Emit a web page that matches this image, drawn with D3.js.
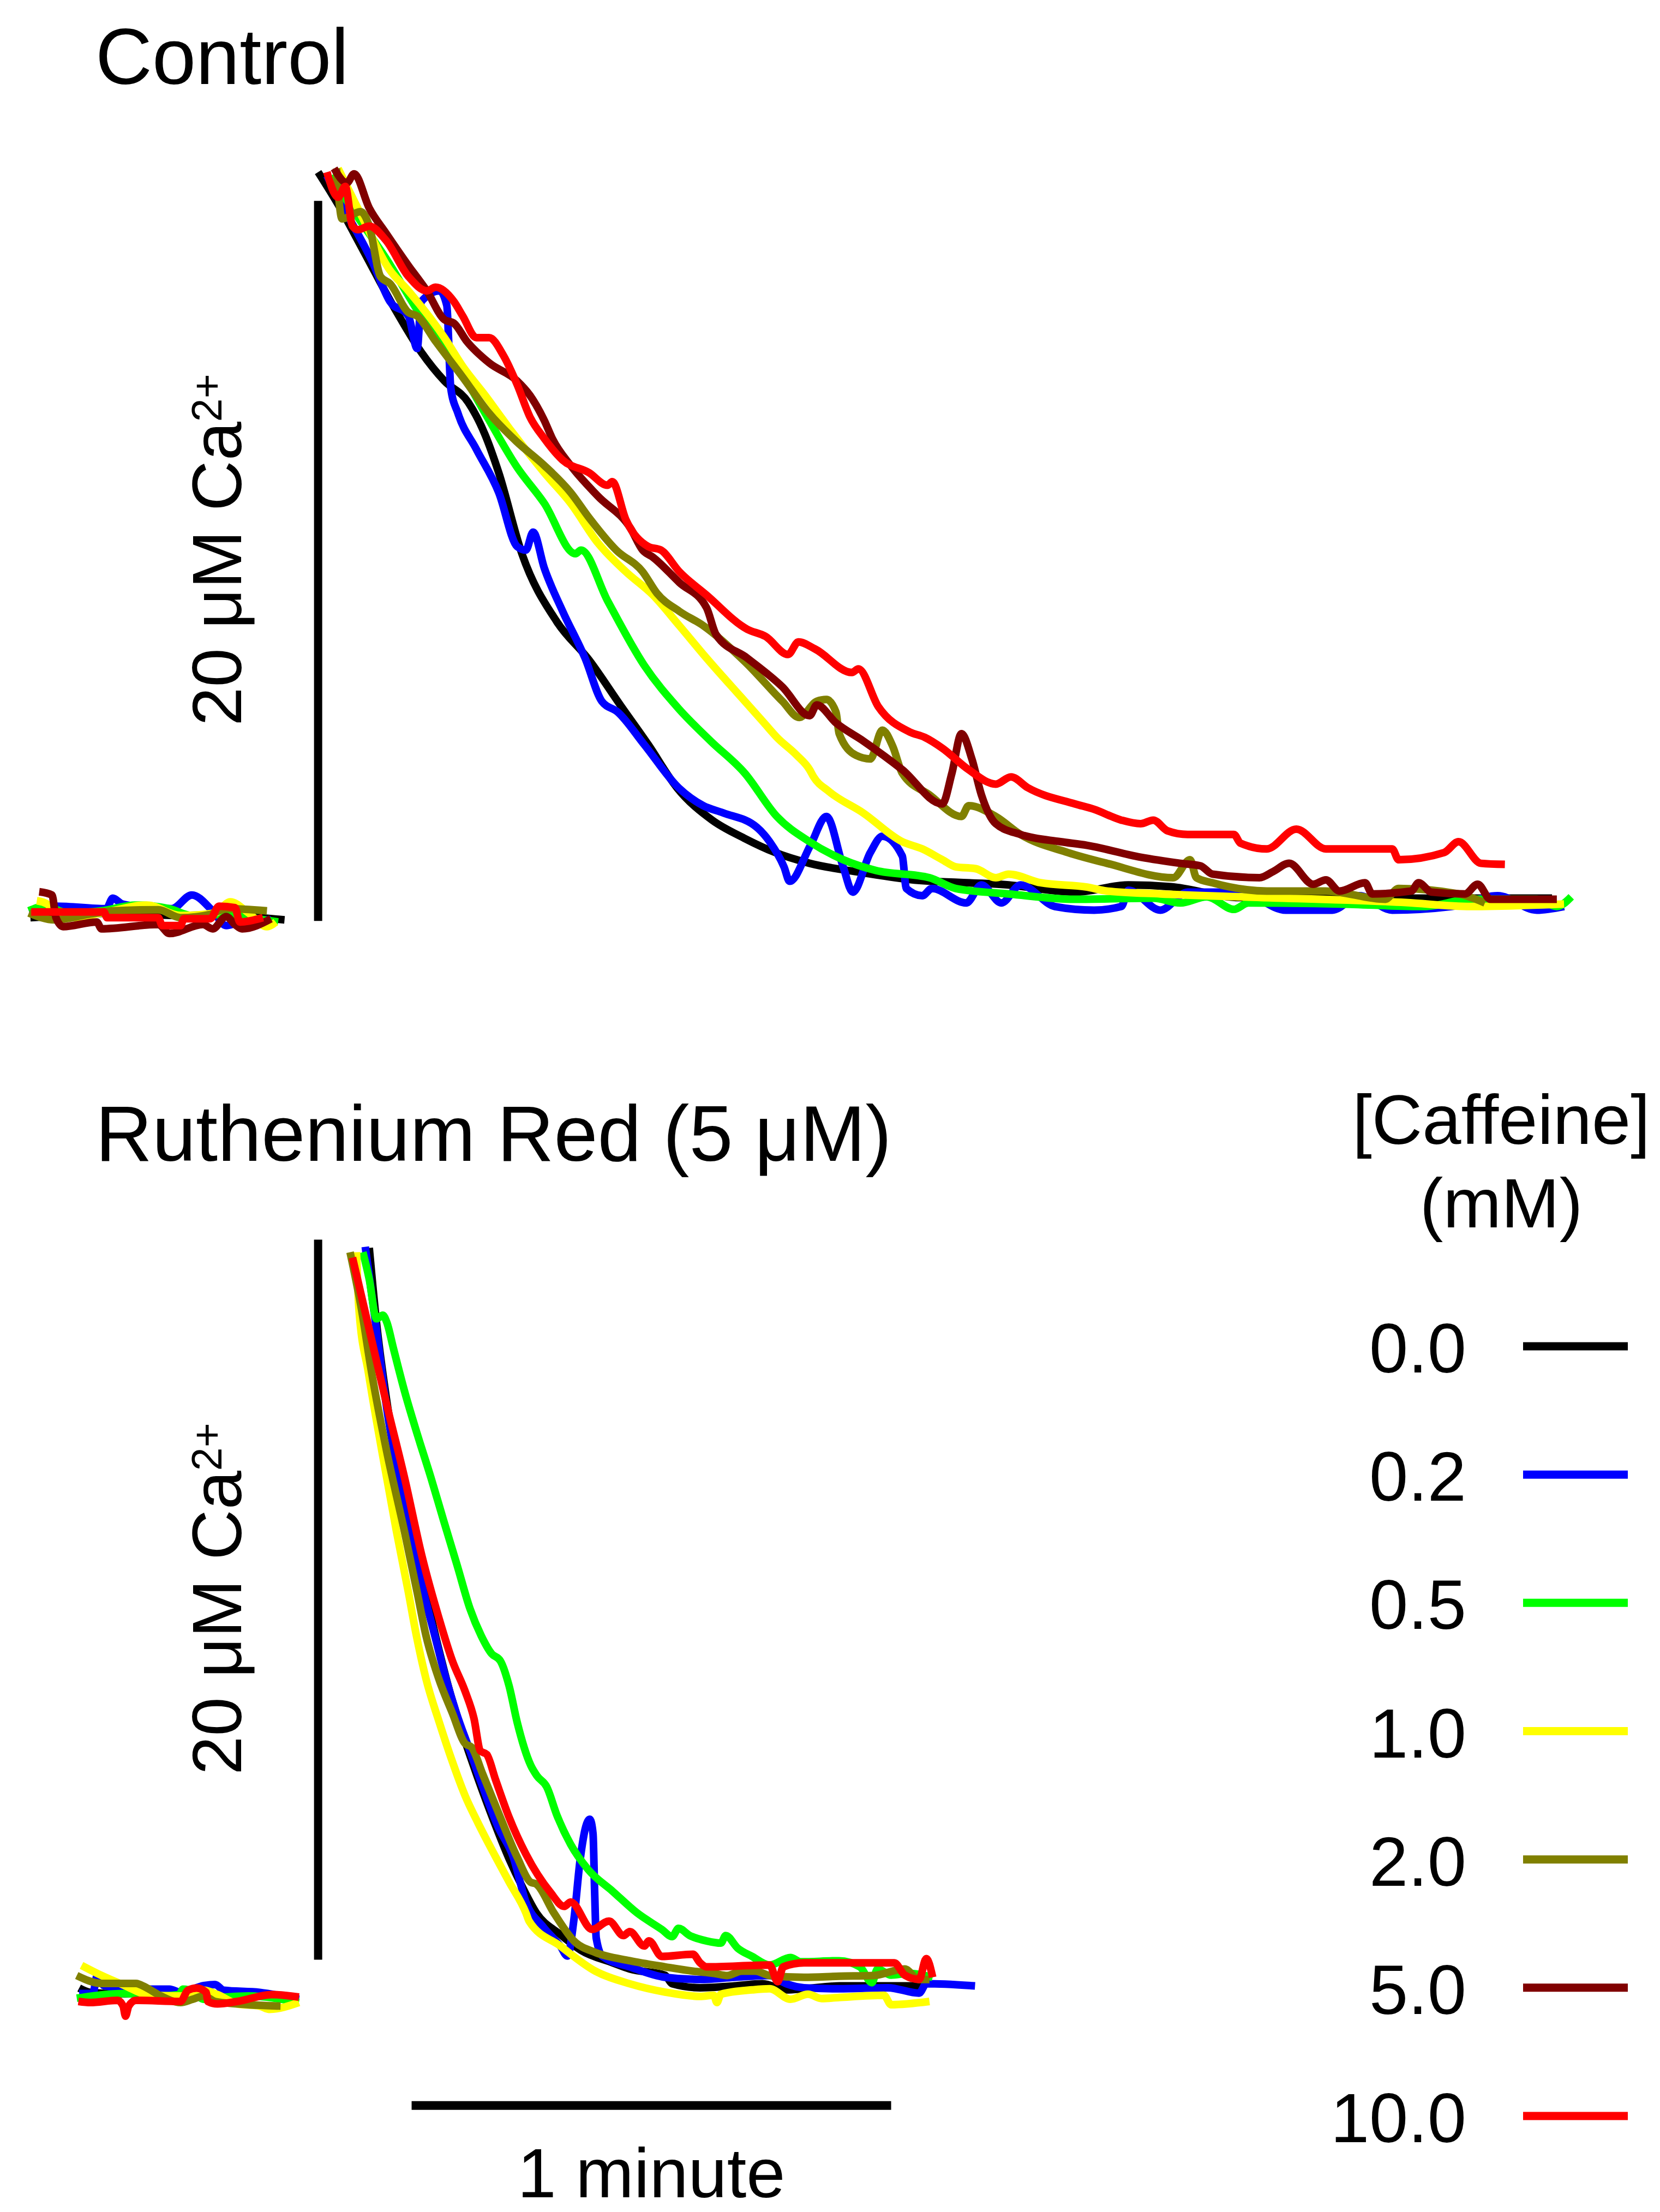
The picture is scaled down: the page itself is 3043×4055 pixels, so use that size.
<!DOCTYPE html>
<html>
<head>
<meta charset="utf-8">
<script src="https://d3js.org/d3.v7.min.js"></script>
<style>
  body { margin: 0; background: #fff; }
  svg text { font-family: 'Liberation Sans', Arial, Helvetica, sans-serif; fill: #000; }
</style>
</head>
<body>
<div id="chart"></div>
<script>
/* global d3 */

const caffeine = ['0.0', '0.2', '0.5', '1.0', '2.0', '5.0', '10.0'];
const traceColors = ['#000000', '#0000ff', '#00ff00', '#ffff00', '#808000', '#800000', '#ff0000'];

// traces are [seconds, µM above resting]; null separates the resting baseline from the decay

// Control
const control00 = [
  [-36.4, -0.11], [-31.7, -0.05], [-26.1, 0.02], [-17.6, -0.05], [-11.9, -0.02], [-9.1, -0.08], [-4.6, -0.17],
  null,
  [-0.4, 20.6], [2.1, 19.7], [5.3, 18.4], [9.2, 16.8], [12.5, 15.6], [15.4, 14.8], [18.4, 14.2], [20.5, 13.3],
  [22.2, 12.25], [25.1, 10.0], [29.5, 8.1], [33.5, 7.05], [37.4, 5.8], [40.9, 4.7], [44.5, 3.5], [48.9, 2.6],
  [52.9, 2.1], [56.8, 1.7], [61.1, 1.4], [67.4, 1.15], [73.6, 0.95], [86, 0.8], [94.3, 0.6], [101, 0.8],
  [106.3, 0.75], [115, 0.45], [136, 0.43], [154, 0.43],
];
const control02 = [
  [-36.6, 0.08], [-33.2, 0.21], [-26.9, 0.14], [-26.1, 0.43], [-24.9, 0.27], [-23.2, 0.21], [-18.7, 0.14],
  [-16.2, 0.52], [-13.6, 0.08], [-11.9, -0.33], [-10.2, -0.23], [-6.3, -0.17],
  null,
  [0.7, 20.5], [2.3, 19.8], [6.4, 18.1], [8.6, 17.0], [10.9, 16.6], [12.0, 15.7], [12.5, 17.0], [14.8, 17.3],
  [15.7, 16.9], [16.2, 14.6], [17.1, 13.9], [19.4, 12.9], [22.2, 11.7], [24.5, 10.2], [25.6, 10.1], [26.5, 10.6],
  [27.9, 9.6], [30.2, 8.4], [33.0, 7.1], [35.1, 5.9], [37.1, 5.6], [40.4, 4.7], [44.7, 3.5], [47.8, 3.0],
  [50.3, 2.8], [54.5, 2.4], [56.1, 2.0], [57.9, 1.3], [58.6, 0.9], [61.2, 1.9], [63.2, 2.7], [65.3, 1.3],
  [66.5, 0.6], [68.7, 1.7], [70.2, 2.15], [72.7, 1.6], [73.2, 0.7], [75.2, 0.5], [76.4, 0.7], [80.7, 0.3],
  [82.6, 0.8], [85.1, 0.3], [87.5, 0.8], [91.8, 0.2], [96.7, 0.1], [100.1, 0.2], [101, 0.65], [105, 0.1],
  [108.4, 0.6], [115, 0.6], [120.7, 0.1], [126.5, 0.1], [129.9, 0.5], [134, 0.1], [141.4, 0.2], [147.2, 0.5],
  [152.1, 0.1], [155.5, 0.2],
];
const control05 = [
  [-36.6, 0.08], [-34.6, 0.21], [-31.7, 0.02], [-27.5, 0.08], [-23.2, 0.24], [-19.0, 0.14], [-16.2, -0.05],
  [-11.9, -0.02], [-9.1, -0.11], [-5.4, -0.23],
  null,
  [1.2, 20.5], [4.1, 19.5], [8.1, 18.2], [12.5, 16.6], [16.6, 15.4], [20.5, 13.9], [24.5, 12.4], [27.9, 11.4],
  [31.8, 10.0], [32.5, 10.1], [35.8, 8.7], [40.4, 6.9], [44.7, 5.7], [48.7, 4.8], [53, 3.9], [57, 2.7],
  [61.1, 2.0], [65.3, 1.5], [69.4, 1.2], [76.1, 1.0], [79.4, 0.7], [86, 0.55], [94.3, 0.4], [104.1, 0.43],
  [107.5, 0.3], [110.8, 0.47], [114.2, 0.12], [116, 0.3], [127.4, 0.27], [138, 0.2], [143.8, 0.4],
  [152.1, 0.4], [154.6, 0.2], [156.4, 0.47],
];
const control10 = [
  [-35.6, 0.36], [-34.3, 0.27], [-33.2, 0.02], [-31.2, -0.11], [-27.5, 0.02], [-21.8, 0.24], [-17.6, -0.05],
  [-13.3, 0.02], [-11.4, 0.33], [-9.1, 0.02], [-6.8, -0.36], [-5.7, -0.23],
  null,
  [2.1, 20.7], [5.0, 19.4], [8.5, 17.9], [10.9, 17.3], [15.4, 16.0], [17.7, 15.2], [20.5, 14.4], [23.8, 13.4],
  [27.9, 12.25], [31.2, 11.4], [34.6, 10.3], [38.1, 9.5], [41.5, 8.85], [44.8, 8.0], [48.2, 7.1], [53, 5.9],
  [55.4, 5.3], [57, 4.9], [59.5, 4.4], [61.1, 4.0], [61.6, 3.8], [63.5, 3.4], [67.8, 2.8], [72.7, 2.0],
  [75.2, 1.8], [77.7, 1.5], [79.4, 1.3], [81.9, 1.25], [84.4, 1.0], [86, 1.1], [90, 0.86], [95.8, 0.74],
  [98.3, 0.63], [105, 0.55], [115, 0.47], [135.7, 0.31], [143.8, 0.2], [155.5, 0.27],
];
const control20 = [
  [-36.6, 0.02], [-33.4, -0.17], [-28.9, -0.01], [-26.1, 0.08], [-20.4, 0.11], [-17.6, -0.11], [-13.9, -0.02],
  [-11.9, 0.14], [-6.8, 0.08],
  null,
  [1.9, 20.7], [2.6, 19.3], [4.9, 19.5], [6.0, 19.1], [7.4, 17.7], [8.6, 17.5], [10.9, 16.7], [12.0, 16.6],
  [14.3, 15.9], [17.7, 14.9], [21, 13.9], [24.5, 13.1], [27.9, 12.45], [31.2, 11.7], [33.5, 11.0], [36.9, 10.1],
  [40.2, 9.5], [42, 8.9], [44.8, 8.4], [47.8, 8.0], [53, 7.0], [57.7, 5.9], [59.8, 5.45], [62, 5.9],
  [63.2, 5.95], [64.4, 5.6], [64.8, 5.0], [66.9, 4.4], [68.7, 4.3], [70.2, 5.1], [71.5, 4.65], [72.7, 3.9],
  [76.1, 3.3], [80.1, 2.7], [81, 3.0], [84.4, 2.7], [87.5, 2.2], [93.4, 1.7], [98.3, 1.4], [106.6, 1.0],
  [108.7, 1.5], [109.5, 1.0], [111.5, 0.86], [118.3, 0.63], [125.7, 0.63], [133.1, 0.4], [134.8, 0.7],
  [142.3, 0.55], [145.6, 0.3],
];
const control50 = [
  [-35.3, 0.61], [-33.7, 0.52], [-33.2, -0.11], [-32.3, -0.36], [-28.1, -0.23], [-27.5, -0.42], [-20.4, -0.30],
  [-19.0, -0.55], [-14.8, -0.30], [-13.6, -0.42], [-11.9, -0.08], [-10.8, -0.30], [-9.9, -0.42], [-6.3, -0.14],
  null,
  [1.6, 20.7], [3.2, 20.3], [4.1, 20.55], [6.0, 19.6], [8.1, 18.9], [10.9, 18.0], [13.2, 17.3], [15.4, 16.5],
  [16.6, 16.4], [18.2, 15.9], [21, 15.3], [24.5, 14.8], [26.1, 14.4], [27.9, 13.7], [28.9, 13.2], [31.2, 12.45],
  [34.6, 11.6], [38.7, 10.7], [40.2, 10.1], [41.5, 9.9], [44.8, 9.2], [48.2, 8.5], [49.4, 7.75], [53.3, 7.1],
  [57.7, 6.3], [61.1, 5.5], [62, 5.8], [64.4, 5.3], [67.8, 4.8], [72.7, 4.0], [77.7, 3.05], [78.9, 3.9],
  [80.1, 5.0], [81.4, 4.3], [82.6, 3.3], [84.4, 2.5], [87.5, 2.2], [92.5, 2.0], [95.8, 1.9], [102.5, 1.57],
  [107.5, 1.4], [110, 1.33], [111.5, 1.1], [117.4, 1.0], [119.1, 1.17], [121.1, 1.4], [124.1, 0.82],
  [125.7, 0.94], [127.4, 0.63], [130.6, 0.86], [131.5, 0.55], [136.4, 0.63], [137.3, 0.86], [138.9, 0.6],
  [143.1, 0.55], [144.7, 0.82], [146.3, 0.4], [154.6, 0.4],
];
const control100 = [
  [-36.3, 0.05], [-27.2, 0.05], [-26.8, -0.11], [-20.4, -0.11], [-19.9, -0.33], [-17.6, -0.33], [-17.2, -0.14],
  [-13.9, -0.14], [-12.8, 0.21], [-10.8, 0.17], [-10.2, -0.23], [-7.3, -0.11],
  null,
  [0.7, 20.6], [2.1, 19.9], [3.0, 20.2], [3.9, 19.1], [4.6, 19.0], [6.0, 19.1], [8.1, 18.7], [10.9, 17.7],
  [13.2, 17.3], [14.3, 17.4], [16.6, 17.0], [17.7, 16.6], [19.4, 16.0], [21, 16.0], [22.8, 15.5], [24.5, 14.7],
  [26.1, 13.8], [27.9, 13.2], [30.2, 12.6], [33.5, 12.25], [35.8, 11.9], [36.4, 12.0], [38.1, 10.95],
  [40.9, 10.2], [42.5, 10.1], [44.8, 9.5], [48.2, 8.85], [53.3, 7.9], [55.6, 7.7], [58.4, 7.2], [59.7, 7.55],
  [61.8, 7.35], [66.4, 6.7], [67.2, 6.8], [69.7, 5.75], [73.6, 5.05], [75.5, 4.9], [77.7, 4.6], [81, 4.0],
  [84.4, 3.6], [86.3, 3.8], [88.4, 3.5], [94.3, 3.05], [96.7, 2.9], [100.1, 2.6], [102.5, 2.5], [104.1, 2.6],
  [105.9, 2.3], [108.4, 2.2], [114.2, 2.2], [115, 1.96], [118.3, 1.8], [122, 2.35], [125.7, 1.8], [134, 1.8],
  [134.8, 1.5], [140.5, 1.7], [142.3, 2.0], [145.1, 1.4], [148.1, 1.37],
];

// Ruthenium Red (5 µM), no 5.0 mM trace
const rr00 = [
  [-30.3, 0.31], [-28.9, 0.19], [-25, 0.15], [-18, 0.15], [-12, 0.12], [-6, 0.08], [-2.8, 0.0],
  null,
  [6.0, 20.87], [6.9, 18.8], [8.2, 16.6], [9.85, 14.5], [11.5, 12.6], [13.1, 11.2], [14.5, 9.9], [16, 8.6],
  [17.5, 7.5], [19.5, 6.2], [21.5, 5.0], [23.5, 3.9], [25.2, 3.1], [26.9, 2.4], [29.9, 1.8], [32.5, 1.36],
  [36.5, 1.01], [38.6, 0.84], [43, 0.67], [43.9, 0.43], [47.4, 0.32], [51.7, 0.37], [55.2, 0.43], [58.2, 0.26],
  [60.4, 0.29], [64.8, 0.37], [69.1, 0.37], [75.7, 0.37],
];
const rr02 = [
  [-30.3, 0.16], [-28.6, 0.16], [-28.0, 0.69], [-27.2, 0.38], [-23.2, 0.28], [-19.0, 0.28], [-17.6, 0.19],
  [-14.7, 0.38], [-13.3, 0.41], [-12.2, 0.25], [-7.7, 0.19], [-2.8, 0.0],
  null,
  [5.5, 20.9], [6.9, 18.6], [8.2, 16.4], [9.85, 14.35], [11.5, 12.5], [12.8, 11.3], [14.2, 10.1], [15.6, 8.9],
  [16.9, 7.95], [18.6, 6.9], [20.2, 5.9], [22.1, 4.8], [24.0, 3.96], [25.6, 2.7], [27.8, 2.0], [29.9, 1.48],
  [30.8, 1.2], [31.6, 2.2], [32.4, 3.9], [33.1, 4.8], [33.6, 5.0], [34.0, 4.6], [34.2, 3.0], [34.4, 1.7],
  [35.2, 1.19], [38.6, 0.9], [43, 0.61], [47.4, 0.55], [51.7, 0.61], [56.1, 0.66], [58.2, 0.43], [60.4, 0.32],
  [64.8, 0.29], [70.9, 0.32], [74.8, 0.17], [75.7, 0.43], [81.8, 0.37],
];
const rr05 = [
  [-30.6, 0.03], [-24.6, 0.16], [-20.4, 0.09], [-17.8, 0.13], [-17.3, 0.28], [-16.1, 0.22], [-14.7, 0.0],
  [-11.9, 0.06], [-9.1, 0.09], [-2.8, -0.09],
  null,
  [5.2, 20.75], [6.0, 20.0], [6.9, 18.9], [7.7, 19.0], [8.2, 18.8], [9.0, 18.1], [10.4, 16.9], [12.0, 15.7],
  [13.7, 14.5], [15.3, 13.3], [17.0, 12.05], [18.6, 10.85], [20.0, 10.1], [21.3, 9.6], [22.4, 9.4], [23.5, 8.7],
  [24.5, 7.7], [26.2, 6.5], [27.0, 6.2], [28.2, 5.9], [29.5, 5.1], [31.2, 4.3], [33.4, 3.6], [36.5, 2.99],
  [39.5, 2.4], [42.6, 1.94], [43.9, 1.74], [44.7, 1.97], [46.1, 1.77], [48.2, 1.62], [50, 1.56], [50.6, 1.77],
  [52.1, 1.42], [53.9, 1.19], [56.1, 0.95], [58.7, 1.16], [60, 1.04], [64.8, 1.07], [67.4, 0.9], [68.9, 0.46],
  [69.6, 0.84], [71.3, 0.67], [73.5, 0.72], [76.5, 0.61],
];
const rr10 = [
  [-30.0, 0.94], [-27.5, 0.66], [-24.6, 0.38], [-21.8, 0.13], [-17.6, 0.09], [-14.7, 0.25], [-13.0, 0.13],
  [-10.5, -0.13], [-7.7, -0.19], [-6.5, -0.28], [-2.8, -0.09],
  null,
  [4.4, 20.75], [4.7, 19.2], [5.9, 17.4], [7.6, 15.2], [9.4, 13.0], [10.9, 11.3], [11.9, 10.1], [13.1, 8.9],
  [14.75, 7.7], [16.4, 6.6], [18.0, 5.65], [19.6, 4.9], [21.8, 3.96], [23.5, 3.26], [25.6, 2.4], [26, 2.17],
  [29.9, 1.48], [34.3, 0.78], [38.6, 0.43], [43, 0.2], [47.4, 0.08], [49.1, 0.11], [49.5, -0.09], [50, 0.14],
  [53.9, 0.26], [56.1, 0.29], [58.7, 0.0], [60.9, 0.14], [62.6, 0.02], [64.8, 0.05], [70.4, 0.11],
  [71.3, -0.15], [76.1, -0.06],
];
const rr20 = [
  [-30.6, 0.66], [-27.5, 0.44], [-23.2, 0.44], [-21.8, 0.31], [-20.4, 0.13], [-17.6, -0.09], [-16.1, 0.0],
  [-14.7, 0.09], [-13.3, -0.06], [-10.5, -0.13], [-5.1, -0.19],
  null,
  [3.6, 20.75], [5.0, 19.2], [6.3, 17.4], [8.2, 15.2], [10.4, 13.0], [12.0, 11.3], [13.1, 10.1], [14.7, 8.9],
  [16.4, 7.95], [18.0, 7.1], [18.8, 7.0], [20.2, 6.25], [22.4, 5.05], [24.5, 3.95], [26.2, 3.25], [26.9, 3.2],
  [29.1, 2.4], [31.7, 1.6], [34.3, 1.3], [38.6, 1.07], [43, 0.9], [46.5, 0.78], [49.1, 0.72], [50.8, 0.66],
  [52.6, 0.78], [54.3, 0.78], [56.1, 0.66], [60.4, 0.61], [64.8, 0.64], [69.1, 0.66], [73, 0.84], [74.8, 0.55],
  [76.1, 0.55],
];
const rr100 = [
  [-30.4, -0.06], [-28.9, -0.09], [-25.5, -0.03], [-24.8, -0.19], [-24.5, -0.47], [-24.1, -0.19], [-23.2, -0.03],
  [-17.6, -0.06], [-16.7, 0.25], [-15.6, 0.31], [-14.4, 0.19], [-14.2, -0.06], [-13.0, -0.13], [-10.5, -0.06],
  [-6.2, 0.13], [-2.8, 0.06],
  null,
  [3.9, 20.6], [6.0, 18.6], [8.2, 16.5], [10.4, 14.5], [12.6, 12.3], [14.7, 10.6], [16.4, 9.4], [18.0, 8.55],
  [19.1, 7.8], [19.9, 6.9], [20.7, 6.8], [21.8, 6.1], [23.5, 5.05], [25.6, 4.03], [28.6, 2.99], [30.4, 2.58],
  [31.2, 2.7], [33.9, 1.94], [36, 2.17], [37.8, 1.77], [38.6, 1.88], [40.4, 1.48], [41, 1.62], [42.6, 1.19],
  [46.5, 1.25], [47.4, 1.01], [48.2, 0.9], [56.1, 0.95], [57.1, 0.49], [57.8, 0.9], [60.4, 1.01], [71.7, 1.01],
  [73, 0.67], [74.8, 0.55], [75.7, 1.13], [76.5, 0.61],
];

const controlTraces = [control00, control02, control05, control10, control20, control50, control100];
const rrCaffeine = ['0.0', '0.2', '0.5', '1.0', '2.0', '10.0'];
const rrTraces = [rr00, rr02, rr05, rr10, rr20, rr100];

const concBar = 20; // µM
const timeBar = 60; // s

const width = 3043;
const height = 4055;

const svg = d3.select('#chart').append('svg')
  .attr('width', width)
  .attr('height', height)
  .style('background', '#fff');

// same time scale for both panels, 1 minute = 879 px
const x = d3.scaleLinear().domain([0, 60]).range([589, 1468]);
const yControl = d3.scaleLinear().domain([0, 20]).range([1675, 355]);
const yRR = d3.scaleLinear().domain([0, 20]).range([3665, 2345]);

const traceLine = y => d3.line()
  .defined(d => d !== null)
  .x(d => x(d[0]))
  .y(d => y(d[1]))
  .curve(d3.curveMonotoneX);

const drawTraces = function drawTraces(traces, labels, y) {
  svg.append('g')
    .selectAll('path')
    .data(traces)
    .enter()
    .append('path')
    .attr('d', traceLine(y))
    .attr('fill', 'none')
    .attr('stroke', (d, i) => traceColors[caffeine.indexOf(labels[i])])
    .attr('stroke-width', 14)
    .attr('stroke-linejoin', 'round');
};

const drawConcBar = function drawConcBar(y, base, cy) {
  svg.append('line')
    .attr('x1', x(-0.4))
    .attr('x2', x(-0.4))
    .attr('y1', y(base))
    .attr('y2', y(base + concBar))
    .attr('stroke', '#000')
    .attr('stroke-width', 15);

  const label = svg.append('text')
    .attr('transform', `translate(442,${cy}) rotate(-90)`)
    .attr('text-anchor', 'middle')
    .style('font-size', '128px')
    .text(`${concBar} μM Ca`);
  label.append('tspan')
    .attr('dy', -36)
    .style('font-size', '77px')
    .text('2+');
};

const title = function title(text, yPos) {
  svg.append('text')
    .attr('x', 175)
    .attr('y', yPos)
    .style('font-size', '144px')
    .text(text);
};

title('Control', 154);
drawConcBar(yControl, -0.2, 1008);
drawTraces(controlTraces, caffeine, yControl);

title('Ruthenium Red (5 μM)', 2128);
drawConcBar(yRR, 1.1, 2931);
drawTraces(rrTraces, rrCaffeine, yRR);

// time scale bar
svg.append('line')
  .attr('x1', x(11.3))
  .attr('x2', x(11.3 + timeBar))
  .attr('y1', yRR(-2.95))
  .attr('y2', yRR(-2.95))
  .attr('stroke', '#000')
  .attr('stroke-width', 16);

svg.append('text')
  .attr('x', (x(11.3) + x(11.3 + timeBar)) / 2)
  .attr('y', 4028)
  .attr('text-anchor', 'middle')
  .style('font-size', '128px')
  .text('1 minute');

// legend
const legendY = d3.scaleLinear().domain([0, caffeine.length - 1]).range([2468, 3879]);
const legend = svg.append('g').attr('class', 'legend');

legend.append('text')
  .attr('x', 2752)
  .attr('y', 2097)
  .attr('text-anchor', 'middle')
  .style('font-size', '128px')
  .text('[Caffeine]');
legend.append('text')
  .attr('x', 2752)
  .attr('y', 2250)
  .attr('text-anchor', 'middle')
  .style('font-size', '128px')
  .text('(mM)');

const items = legend.selectAll('g.item')
  .data(caffeine)
  .enter()
  .append('g')
  .attr('class', 'item')
  .attr('transform', (d, i) => `translate(0,${legendY(i)})`);

items.append('text')
  .attr('x', 2688)
  .attr('y', 48)
  .attr('text-anchor', 'end')
  .style('font-size', '128px')
  .text(d => d);

items.append('line')
  .attr('x1', 2792)
  .attr('x2', 2984)
  .attr('stroke', (d, i) => traceColors[i])
  .attr('stroke-width', 15);
</script>
</body>
</html>
